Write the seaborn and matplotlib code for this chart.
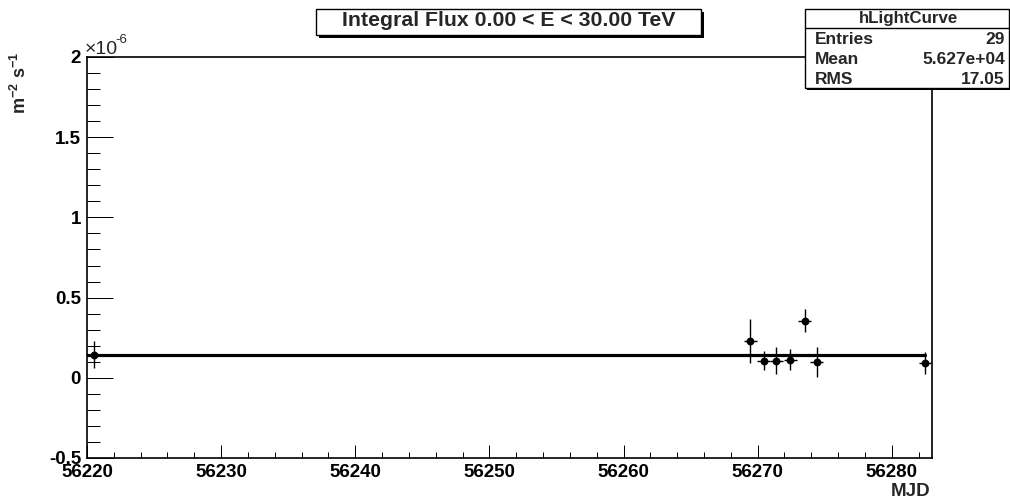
import numpy as np
import pandas as pd
import matplotlib
matplotlib.use("Agg")
import matplotlib.pyplot as plt
from matplotlib.patches import Rectangle
from matplotlib.ticker import MultipleLocator, FuncFormatter
import seaborn as sns

# ---- data ----
mjd = [56220.5, 56269.45, 56270.45, 56271.4, 56272.45, 56273.5, 56274.4, 56282.5]
flux = [0.144e-6, 0.231e-6, 0.106e-6, 0.106e-6, 0.1125e-6, 0.356e-6, 0.098e-6, 0.092e-6]
flux_err = [0.086e-6, 0.137e-6, 0.06e-6, 0.085e-6, 0.065e-6, 0.072e-6, 0.094e-6, 0.07e-6]
mjd_err = [0.5, 0.5, 0.5, 0.5, 0.5, 0.5, 0.5, 0.5]
fit_mjd = [56220.0, 56282.5]
fit_flux = [0.144e-6, 0.144e-6]
title_text = "Integral Flux 0.00 < E < 30.00 TeV"
stats_name = "hLightCurve"
stats_labels = ["Entries", "Mean", "RMS"]
stats_values = ["29", "5.627e+04", "17.05"]

sns.set_style("white")
plt.rcParams["font.family"] = ["Liberation Sans", "DejaVu Sans"]
plt.rcParams["font.weight"] = "bold"
plt.rcParams["axes.unicode_minus"] = False
plt.rcParams["mathtext.fontset"] = "custom"
plt.rcParams["mathtext.rm"] = "Liberation Sans:bold"
plt.rcParams["mathtext.bf"] = "Liberation Sans:bold"
plt.rcParams["mathtext.it"] = "Liberation Sans:bold"

W, H = 1010, 500
PX = 0.72  # points per pixel at dpi 100
fig = plt.figure(figsize=(W / 100, H / 100), dpi=100)
ax = fig.add_axes([87 / W, 1 - 458 / H, (932 - 87) / W, (458 - 57) / H])

df = pd.DataFrame({"mjd": mjd, "flux": flux})
fit_df = pd.DataFrame({"mjd": fit_mjd, "flux": fit_flux})

ax.errorbar(mjd, flux, yerr=flux_err, xerr=mjd_err, fmt="none",
            ecolor="black", elinewidth=1.0, capsize=0, zorder=2)
sns.lineplot(data=fit_df, x="mjd", y="flux", ax=ax, color="black",
             linewidth=2.3, zorder=3, legend=False)
sns.scatterplot(data=df, x="mjd", y="flux", ax=ax, color="black",
                s=32, edgecolor="black", linewidth=0, zorder=4, legend=False)

ax.set_xlim(56220, 56283)
ax.set_ylim(-0.5e-6, 2e-6)
ax.set_xlabel("")
ax.set_ylabel("")

ax.xaxis.set_major_locator(MultipleLocator(10))
ax.xaxis.set_minor_locator(MultipleLocator(2))
ax.yaxis.set_major_locator(MultipleLocator(0.5e-6))
ax.yaxis.set_minor_locator(MultipleLocator(0.1e-6))
ax.yaxis.set_major_formatter(FuncFormatter(lambda v, p: f"{v * 1e6:g}"))
ax.xaxis.set_major_formatter(FuncFormatter(lambda v, p: f"{v:.0f}"))

ax.tick_params(axis="both", which="both", direction="in", colors="black",
               labelsize=13.5, bottom=True, left=True, top=False, right=False,
               width=1.0 * PX)
ax.tick_params(axis="x", which="major", length=13 * PX, pad=6 * PX)
ax.tick_params(axis="x", which="minor", length=6 * PX)
ax.tick_params(axis="y", which="major", length=26 * PX, pad=6 * PX)
ax.tick_params(axis="y", which="minor", length=13 * PX)
for lab in ax.get_xticklabels() + ax.get_yticklabels():
    lab.set_fontweight("bold")
for s in ax.spines.values():
    s.set_color("black")
    s.set_linewidth(1.2)

# axis titles
fig.text(930 / W, 1 - 491 / H, "MJD", ha="right", va="center",
         fontsize=13.5, fontweight="bold")
fig.text(20 / W, 1 - 83 / H, r"m$^{-2}$ s$^{-1}$", rotation=90, ha="center",
         va="center", fontsize=13, fontweight="bold")
fig.text(85 / W, 1 - 49 / H, "\u00d710", ha="left", va="center",
         fontsize=14, fontweight="normal")
fig.text(115 / W, 1 - 40 / H, "-6", ha="left", va="center",
         fontsize=9.5, fontweight="normal")


def px_rect(x0, y0, x1, y1, **kw):
    r = Rectangle((x0 / W, 1 - y1 / H), (x1 - x0) / W, (y1 - y0) / H,
                  transform=fig.transFigure, **kw)
    fig.patches.append(r)


# title box with shadow
px_rect(319, 12, 704, 38, facecolor="black", edgecolor="none", zorder=5)
px_rect(316, 9, 701, 35, facecolor="white", edgecolor="black", linewidth=1.0, zorder=6)
fig.text(509 / W, 1 - 21 / H, title_text, ha="center", va="center",
         fontsize=15.3, fontweight="bold", zorder=7)

# stats box with shadow
px_rect(807, 11, 1012, 90, facecolor="black", edgecolor="none", zorder=5)
px_rect(805, 9, 1009, 88, facecolor="white", edgecolor="black", linewidth=1.0, zorder=6)
line = plt.Line2D([805 / W, 1009 / W], [1 - 28 / H, 1 - 28 / H],
                  transform=fig.transFigure, color="black", linewidth=1.0, zorder=7)
fig.lines.append(line)
fig.text(909 / W, 1 - 18 / H, stats_name, ha="center", va="center",
         fontsize=12.2, fontweight="bold", zorder=7)
row_y = [40, 59, 79]
for lbl, val, yy in zip(stats_labels, stats_values, row_y):
    fig.text(815 / W, 1 - yy / H, lbl, ha="left", va="center",
             fontsize=12.5, fontweight="bold", zorder=7)
    fig.text(1005 / W, 1 - yy / H, val, ha="right", va="center",
             fontsize=12.5, fontweight="bold", zorder=7)

fig.savefig("out.png", dpi=100, facecolor="white")
